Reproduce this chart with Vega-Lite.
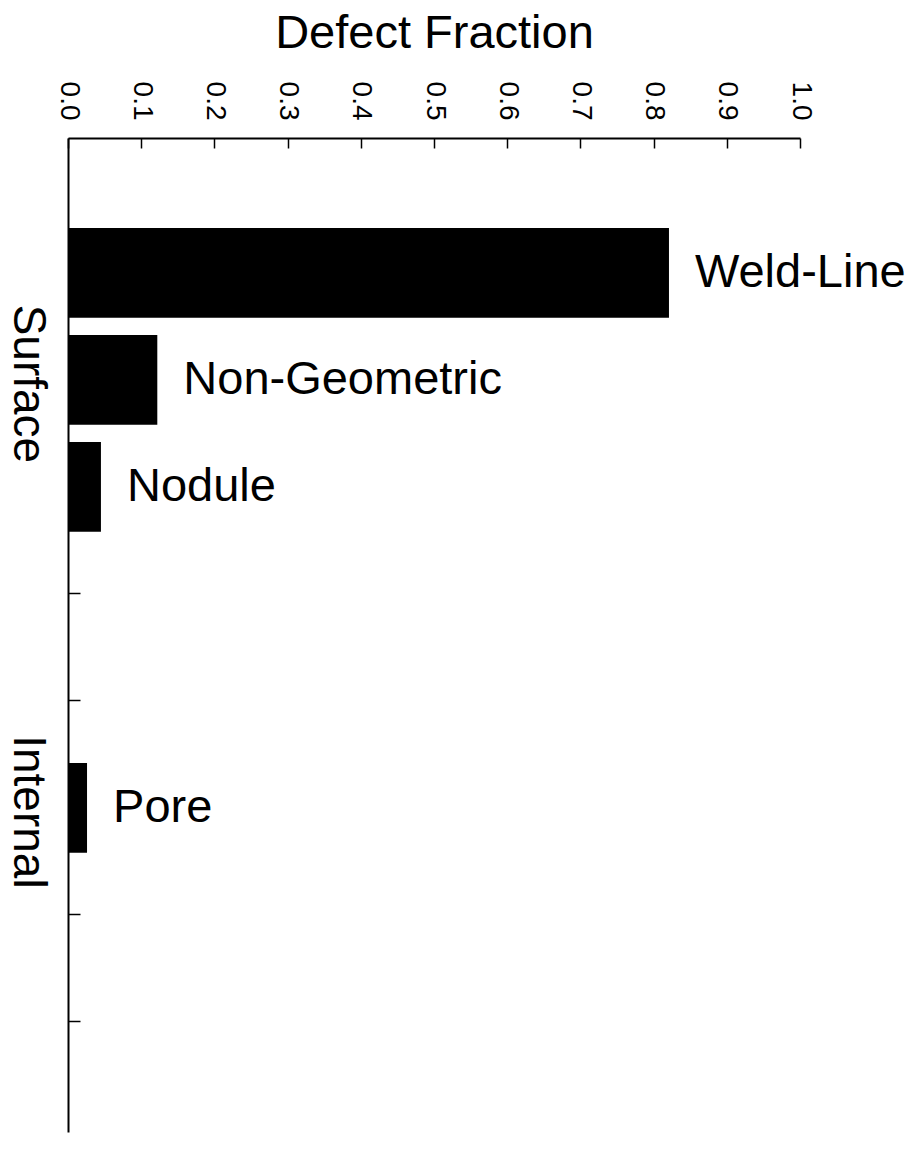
{
  "$schema": "https://vega.github.io/schema/vega-lite/v6.json",
  "width": 732,
  "height": 994,
  "autosize": {"type": "none"},
  "padding": {"left": 68, "top": 138, "right": 114, "bottom": 18},
  "background": "white",
  "config": {"view": {"stroke": null}, "font": "Liberation Sans"},
  "data": {"values": [
    {"defect": "Weld-Line", "fraction": 0.821},
    {"defect": "Non-Geometric", "fraction": 0.122},
    {"defect": "Nodule", "fraction": 0.045},
    {"defect": "Pore", "fraction": 0.026}
  ]},
  "encoding": {
    "y": {
      "field": "defect",
      "type": "nominal",
      "scale": {
        "domain": ["Weld-Line", "Non-Geometric", "Nodule", "s4", "s5", "Pore", "s7", "s8"],
        "paddingInner": 0.16,
        "paddingOuter": 0.725,
        "align": 0.58
      },
      "axis": {
        "title": null,
        "orient": "left",
        "domainColor": "black",
        "domainWidth": 2,
        "tickColor": "black",
        "tickWidth": 1.5,
        "tickSize": -12,
        "labelExpr": "datum.value == 'Non-Geometric' ? 'Surface' : (datum.value == 'Pore' ? 'Internal' : '')",
        "labelAngle": 90,
        "labelAlign": "center",
        "labelBaseline": "top",
        "labelFontSize": 46,
        "labelColor": "black",
        "labelPadding": 31,
        "labelOffset": 4,
        "labelOverlap": false
      }
    },
    "x": {
      "field": "fraction",
      "type": "quantitative",
      "scale": {"domain": [0, 1], "nice": false},
      "axis": {
        "orient": "top",
        "title": "Defect Fraction",
        "titleFontSize": 47,
        "titleFontWeight": "normal",
        "titleColor": "black",
        "titlePadding": 24,
        "values": [0, 0.1, 0.2, 0.3, 0.4, 0.5, 0.6, 0.7, 0.8, 0.9, 1.0],
        "format": ".1f",
        "labelAngle": 90,
        "labelAlign": "right",
        "labelBaseline": "middle",
        "labelFontSize": 28,
        "labelColor": "black",
        "labelPadding": 28,
        "labelFlush": false,
        "labelOverlap": false,
        "tickSize": -10,
        "tickColor": "black",
        "tickWidth": 1.5,
        "domainColor": "black",
        "domainWidth": 2,
        "grid": false
      }
    }
  },
  "layer": [
    {"mark": {"type": "bar", "color": "black"}},
    {
      "mark": {"type": "text", "align": "left", "baseline": "middle", "dx": 26, "fontSize": 47, "color": "black"},
      "encoding": {"text": {"field": "defect"}}
    }
  ]
}
